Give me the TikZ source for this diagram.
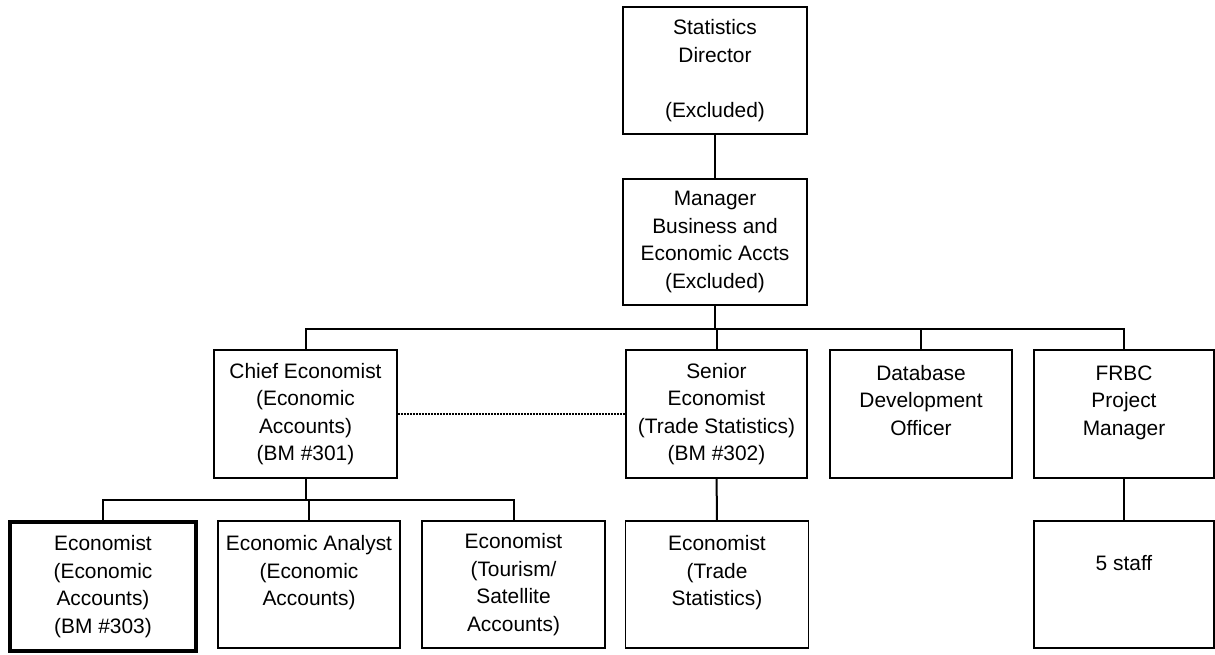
\documentclass[tikz,border=0pt]{standalone}
\usepackage{fontspec}
\setmainfont{Liberation Sans}
\begin{document}
\begin{tikzpicture}[x=1pt,y=-1pt,
  box/.style={draw=black,line width=1.8pt,fill=white,inner sep=0pt,align=center,
    font=\fontsize{20.9}{27.5}\selectfont},
  conn/.style={draw=black,line width=2pt},
  dotconn/.style={draw=black,line width=1.4pt,dash pattern=on 2pt off 1pt}]
\useasboundingbox (0,0) rectangle (1215,654);
% top
\node[box,minimum width=184pt,minimum height=127pt] (dir) at (715,70.5)
  {Statistics\\Director\\~\\(Excluded)};
\node[box,minimum width=184pt,minimum height=126pt] (mgr) at (715,242)
  {Manager\\Business and\\Economic Accts\\(Excluded)};
% second row
\node[box,minimum width=183pt,minimum height=128pt] (chief) at (305.5,414)
  {Chief Economist\\(Economic\\Accounts)\\(BM \#301)};
\node[box,minimum width=181pt,minimum height=128pt] (senior) at (716.5,414)
  {Senior\\Economist\\(Trade Statistics)\\(BM \#302)};
\node[box,minimum width=182pt,minimum height=128pt] (db) at (921,414)
  {Database\\Development\\Officer\\~};
\node[box,minimum width=180pt,minimum height=128pt] (frbc) at (1124,414)
  {FRBC\\Project\\Manager\\~};
% third row
\node[box,line width=4.5pt,minimum width=186pt,minimum height=129pt] (econ) at (103,586.5)
  {Economist\\(Economic\\Accounts)\\(BM \#303)};
\node[box,minimum width=182pt,minimum height=127pt] (analyst) at (309,584.5)
  {Economic Analyst\\(Economic\\Accounts)\\~};
\node[box,minimum width=183pt,minimum height=127pt] (tour) at (513.5,584.5)
  {Economist\\(Tourism/\\Satellite\\Accounts)};
\node[box,minimum width=183pt,minimum height=127pt] (trade) at (717,584.5)
  {Economist\\(Trade\\Statistics)\\~};
\node[box,minimum width=180pt,minimum height=127pt] (staff) at (1124,584.5)
  {~\\5 staff\\~\\~};
% connectors
\coordinate (bus1) at (715,328.5);
\coordinate (bus2) at (305.5,499.5);
\draw[conn] (dir) -- (mgr);
\draw[conn] (mgr) -- (bus1);
\draw[conn] (chief.north) |- (bus1) -| (frbc.north);
\draw[conn] (senior.north) -- (senior.north |- bus1);
\draw[conn] (db.north) -- (db.north |- bus1);
\draw[conn] (chief) -- (bus2);
\draw[conn] (econ.north) |- (bus2) -| (tour.north);
\draw[conn] (analyst.north) -- (analyst.north |- bus2);
\draw[conn] (senior) -- (trade);
\draw[conn] (frbc) -- (staff);
\draw[dotconn] (chief.east) -- (senior.west);
\end{tikzpicture}
\end{document}
